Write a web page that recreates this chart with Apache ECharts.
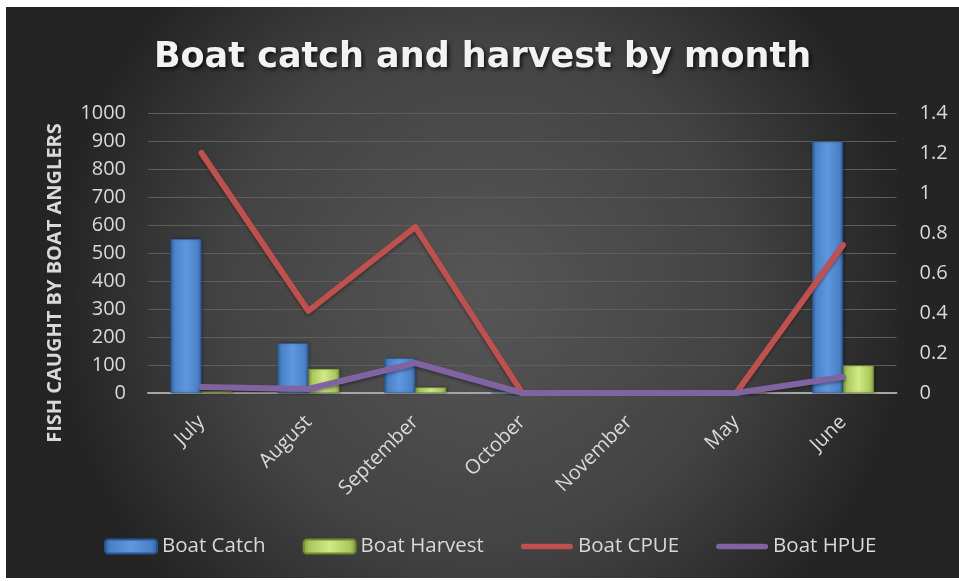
<!DOCTYPE html>
<html>
<head>
<meta charset="utf-8">
<title>Boat catch and harvest by month</title>
<script src="https://cdn.jsdelivr.net/npm/echarts@6/dist/echarts.min.js"></script>
<style>
  html, body { margin: 0; padding: 0; background: #ffffff; }
  #chart { position: absolute; left: 6px; top: 7px; width: 953px; height: 571px; }
</style>
</head>
<body>
<div id="chart"></div>
<script>
// Months on the category axis
const months = ['July', 'August', 'September', 'October', 'November', 'May', 'June'];
// Fish counts (left axis)
const boatCatch = [550, 178, 124, 0, 0, 0, 898];
const boatHarvest = [6, 86, 20, 0, 0, 0, 98];
// Per-unit-effort rates (right axis)
const boatCPUE = [1.2, 0.41, 0.83, 0, 0, 0, 0.74];
const boatHPUE = [0.03, 0.02, 0.15, 0, 0, 0, 0.08];
// Axis ticks
const leftTicks = { min: 0, max: 1000, step: 100 };
const rightTicks = { min: 0, max: 1.4, step: 0.2 };

const labelGray = '#d9d9d9';
const labelFont = 'Open Sans';
// Thick rounded stroke used as the legend key for the two rate lines
const lineKey = 'path://M3,0 H56 A3,3 0 0 1 56,6 H3 A3,3 0 0 1 3,0 Z';

function barGradient(edge, mid, hi) {
  return new echarts.graphic.LinearGradient(0, 0, 1, 0, [
    { offset: 0, color: edge },
    { offset: 0.12, color: mid },
    { offset: 0.5, color: hi },
    { offset: 0.88, color: mid },
    { offset: 1, color: edge }
  ]);
}

const chart = echarts.init(document.getElementById('chart'), null, { renderer: 'canvas' });

chart.setOption({
  backgroundColor: {
    type: 'radial', x: 0.5, y: 0.5, r: 0.75,
    colorStops: [
      { offset: 0, color: '#565656' },
      { offset: 0.6, color: '#434343' },
      { offset: 1, color: '#242424' }
    ]
  },
  animation: false,
  title: {
    text: 'Boat catch and harvest by month',
    left: 'center',
    top: 28,
    textStyle: {
      fontFamily: 'DejaVu Sans',
      fontWeight: 'bold',
      fontSize: 35,
      color: '#f2f2f2',
      textShadowColor: 'rgba(0,0,0,0.75)',
      textShadowBlur: 4,
      textShadowOffsetX: 2,
      textShadowOffsetY: 2
    }
  },
  legend: {
    bottom: 16,
    left: 93,
    itemWidth: 52,
    itemHeight: 14,
    itemGap: 37,
    textStyle: { color: labelGray, fontFamily: labelFont, fontSize: 20.5 },
    data: [
      { name: 'Boat Catch' },
      { name: 'Boat Harvest' },
      { name: 'Boat CPUE', icon: lineKey },
      { name: 'Boat HPUE', icon: lineKey }
    ]
  },
  graphic: [{
    type: 'text',
    x: 49,
    y: 276,
    rotation: Math.PI / 2,
    style: {
      text: 'FISH CAUGHT BY BOAT ANGLERS',
      fill: labelGray,
      font: 'bold 20px "Open Sans"',
      textAlign: 'center',
      textVerticalAlign: 'middle'
    }
  }],
  grid: { left: 142, right: 62.5, top: 106, bottom: 185 },
  xAxis: {
    type: 'category',
    data: months,
    axisLine: { show: true, lineStyle: { color: '#a6a6a6', width: 2 } },
    axisTick: { show: false },
    axisLabel: {
      rotate: 45,
      margin: 26,
      color: labelGray,
      fontFamily: labelFont,
      fontSize: 20
    }
  },
  yAxis: [{
    type: 'value',
    min: leftTicks.min, max: leftTicks.max, interval: leftTicks.step,
    axisLine: { show: false },
    axisTick: { show: false },
    axisLabel: {
      margin: 22, color: labelGray, fontFamily: labelFont, fontSize: 20,
      formatter: v => String(v)
    },
    splitLine: { lineStyle: { color: '#5e5e5e', width: 1 } }
  }, {
    type: 'value',
    min: rightTicks.min, max: rightTicks.max, interval: rightTicks.step,
    axisLine: { show: false },
    axisTick: { show: false },
    axisLabel: {
      margin: 23, color: labelGray, fontFamily: labelFont, fontSize: 20,
      formatter: v => String(Math.round(v * 10) / 10)
    },
    splitLine: { show: false }
  }],
  series: [{
    name: 'Boat Catch',
    type: 'bar',
    data: boatCatch,
    barGap: '0%',
    barCategoryGap: '42%',
    itemStyle: {
      color: barGradient('#2f5f9e', '#4a82c8', '#5f98de'),
      borderColor: '#2a5690',
      borderWidth: 0.5,
      shadowColor: 'rgba(0,0,0,0.4)',
      shadowBlur: 3,
      shadowOffsetX: 1
    }
  }, {
    name: 'Boat Harvest',
    type: 'bar',
    data: boatHarvest,
    itemStyle: {
      color: barGradient('#7d9a3a', '#a9c85c', '#d2ea88'),
      borderColor: '#6f8a33',
      borderWidth: 0.5,
      shadowColor: 'rgba(0,0,0,0.4)',
      shadowBlur: 3,
      shadowOffsetX: 1
    }
  }, {
    name: 'Boat CPUE',
    type: 'line',
    yAxisIndex: 1,
    data: boatCPUE,
    symbol: 'none',
    itemStyle: { color: '#c0504d' },
    lineStyle: {
      color: '#c0504d', width: 6, cap: 'round', join: 'round',
      shadowColor: 'rgba(0,0,0,0.35)', shadowBlur: 3, shadowOffsetY: 2
    },
    z: 3
  }, {
    name: 'Boat HPUE',
    type: 'line',
    yAxisIndex: 1,
    data: boatHPUE,
    symbol: 'none',
    itemStyle: { color: '#8064a2' },
    lineStyle: {
      color: '#8064a2', width: 6, cap: 'round', join: 'round',
      shadowColor: 'rgba(0,0,0,0.35)', shadowBlur: 3, shadowOffsetY: 2
    },
    z: 4
  }]
});
</script>
</body>
</html>
